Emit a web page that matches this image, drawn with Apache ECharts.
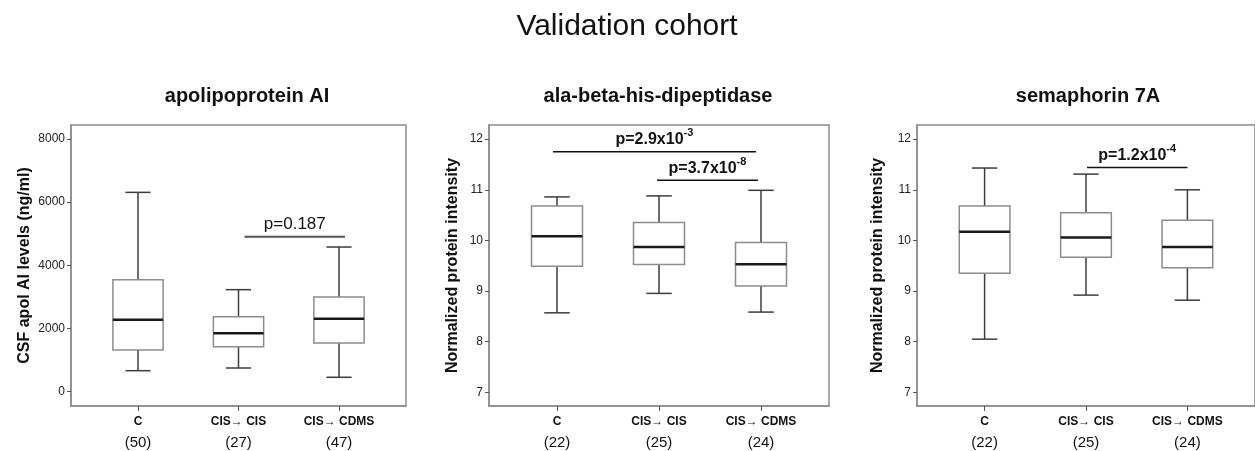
<!DOCTYPE html>
<html>
<head>
<meta charset="utf-8">
<script src="https://cdn.jsdelivr.net/npm/echarts@6.0.0/dist/echarts.min.js"></script>
<style>
  body { margin: 0; background: #fff; }
  #main { width: 1255px; height: 451px; }
</style>
</head>
<body>
<div id="main"></div>
<script>
// data
var groups = ['C', 'CIS\u2192 CIS', 'CIS\u2192 CDMS'];

// box stats: [low whisker, Q1, median, Q3, high whisker]
var apoBoxes = [
  [665, 1320, 2280, 3546, 6310],
  [750, 1425, 1850, 2375, 3230],
  [456, 1542, 2311, 2998, 4580]
];
var apoN = [50, 27, 47];

var alaBoxes = [
  [8.57, 9.49, 10.085, 10.68, 10.86],
  [8.954, 9.526, 9.87, 10.355, 10.88],
  [8.585, 9.10, 9.53, 9.96, 10.99]
];
var alaN = [22, 25, 24];

var semaBoxes = [
  [8.05, 9.35, 10.17, 10.68, 11.43],
  [8.92, 9.67, 10.06, 10.545, 11.31],
  [8.82, 9.46, 9.87, 10.40, 11.0]
];
var semaN = [22, 25, 24];

var apoTicks = [0, 2000, 4000, 6000, 8000];
var proteinTicks = [7, 8, 9, 10, 11, 12];

// significance bars: [x from, x to, y]
var apoSig = [[2.06, 3.06, 4907]];
var apoSigText = [['p=0.187', '']];
var alaSig = [[0.96, 2.95, 11.75], [1.98, 2.97, 11.19]];
var alaSigText = [['p=2.9x10', '-3'], ['p=3.7x10', '-8']];
var semaSig = [[2.01, 3.0, 11.44]];
var semaSigText = [['p=1.2x10', '-4']];

var FONT = "'Liberation Sans', Arial, Helvetica, sans-serif";
var BOX_W = 0.5;

function boxData(boxes) {
  return boxes.map(function (b, i) { return [i + 1].concat(b); });
}

function renderBox(params, api) {
  var x = api.value(0);
  var lo = api.coord([x, api.value(1)]);
  var q1 = api.coord([x, api.value(2)]);
  var md = api.coord([x, api.value(3)]);
  var q3 = api.coord([x, api.value(4)]);
  var hi = api.coord([x, api.value(5)]);
  var half = api.size([BOX_W, 0])[0] / 2;
  var cap = half / 2;
  var cx = lo[0];
  var whisk = { stroke: '#3c3c3c', lineWidth: 1.5 };
  return {
    type: 'group',
    children: [
      { type: 'line', shape: { x1: cx, y1: hi[1], x2: cx, y2: q3[1] }, style: whisk },
      { type: 'line', shape: { x1: cx, y1: q1[1], x2: cx, y2: lo[1] }, style: whisk },
      { type: 'line', shape: { x1: cx - cap, y1: hi[1], x2: cx + cap, y2: hi[1] }, style: whisk },
      { type: 'line', shape: { x1: cx - cap, y1: lo[1], x2: cx + cap, y2: lo[1] }, style: whisk },
      { type: 'rect', shape: { x: cx - half, y: q3[1], width: half * 2, height: q1[1] - q3[1] },
        style: { fill: '#fff', stroke: '#8c8c8c', lineWidth: 1.5 } },
      { type: 'line', shape: { x1: cx - half, y1: md[1], x2: cx + half, y2: md[1] },
        style: { stroke: '#1a1a1a', lineWidth: 2.5 } }
    ]
  };
}

function sigRenderer(texts, bold, color) {
  return function (params, api) {
    var a = api.coord([api.value(0), api.value(2)]);
    var b = api.coord([api.value(1), api.value(2)]);
    var t = texts[params.dataIndex];
    var w = bold ? 'bold ' : '';
    return {
      type: 'group',
      children: [
        { type: 'line', shape: { x1: a[0], y1: a[1], x2: b[0], y2: b[1] },
          style: { stroke: color, lineWidth: bold ? 1.5 : 2 } },
        { type: 'text', x: (a[0] + b[0]) / 2, y: a[1] - 4,
          style: {
            text: '{m|' + t[0] + '}' + (t[1] ? '{s|' + t[1] + '}' : ''),
            align: 'center', verticalAlign: 'bottom',
            rich: {
              m: { font: w + (bold ? '16px ' : '17px ') + FONT, fill: '#111', lineHeight: 20, verticalAlign: 'bottom' },
              s: { font: w + '11px ' + FONT, fill: '#111', lineHeight: 12, verticalAlign: 'top' }
            }
          } }
      ]
    };
  };
}

function xAxisFor(idx, ns) {
  return {
    type: 'value', gridIndex: idx, min: 1 / 3, max: 11 / 3,
    axisLine: { show: true, onZero: false, lineStyle: { color: '#8c8c8c', width: 1.5 } },
    axisTick: { show: true, customValues: [1, 2, 3], length: 5, lineStyle: { color: '#555' } },
    splitLine: { show: false },
    axisLabel: {
      customValues: [1, 2, 3], margin: 8,
      formatter: function (v) {
        var i = Math.round(v) - 1;
        return '{g|' + groups[i] + '}\n{n|(' + ns[i] + ')}';
      },
      rich: {
        g: { fontFamily: FONT, fontWeight: 'bold', fontSize: 12, color: '#111', lineHeight: 16 },
        n: { fontFamily: FONT, fontSize: 15, color: '#111', lineHeight: 26 }
      }
    }
  };
}

function yAxisFor(idx, name, min, max, ticks, gap) {
  return {
    type: 'value', gridIndex: idx, min: min, max: max,
    name: name, nameLocation: 'middle', nameGap: gap,
    nameTextStyle: { fontFamily: FONT, fontWeight: 'bold', fontSize: 16, color: '#111' },
    axisLine: { show: true, onZero: false, lineStyle: { color: '#8c8c8c', width: 1.5 } },
    axisTick: { show: true, customValues: ticks, length: 4, lineStyle: { color: '#555' } },
    splitLine: { show: false },
    axisLabel: {
      customValues: ticks, margin: 6, fontFamily: FONT, fontSize: 12, color: '#222',
      formatter: function (v) { return String(v); }
    }
  };
}

var gridStyle = { show: true, borderColor: '#8c8c8c', borderWidth: 1.5, backgroundColor: 'transparent' };

var option = {
  backgroundColor: '#fff',
  animation: false,
  graphic: [
    { type: 'text', x: 627, y: 12, style: { text: 'Validation cohort', font: '30px ' + FONT, fill: '#111', align: 'center' } },
    { type: 'text', x: 247, y: 86, style: { text: 'apolipoprotein AI', font: 'bold 20px ' + FONT, fill: '#111', align: 'center' } },
    { type: 'text', x: 658, y: 86, style: { text: 'ala-beta-his-dipeptidase', font: 'bold 20px ' + FONT, fill: '#111', align: 'center' } },
    { type: 'text', x: 1088, y: 86, style: { text: 'semaphorin 7A', font: 'bold 20px ' + FONT, fill: '#111', align: 'center' } }
  ],
  grid: [
    Object.assign({ left: 71, top: 125, width: 335, height: 281 }, gridStyle),
    Object.assign({ left: 489, top: 125, width: 340, height: 281 }, gridStyle),
    Object.assign({ left: 917, top: 125, width: 342, height: 281 }, gridStyle)
  ],
  xAxis: [xAxisFor(0, apoN), xAxisFor(1, alaN), xAxisFor(2, semaN)],
  yAxis: [
    yAxisFor(0, 'CSF apol AI levels (ng/ml)', -453, 8443, apoTicks, 38),
    yAxisFor(1, 'Normalized protein intensity', 6.73, 12.28, proteinTicks, 28),
    yAxisFor(2, 'Normalized protein intensity', 6.73, 12.28, proteinTicks, 31)
  ],
  series: [
    { type: 'custom', xAxisIndex: 0, yAxisIndex: 0, renderItem: renderBox, data: boxData(apoBoxes), encode: { x: 0, y: [1, 2, 3, 4, 5] } },
    { type: 'custom', xAxisIndex: 1, yAxisIndex: 1, renderItem: renderBox, data: boxData(alaBoxes), encode: { x: 0, y: [1, 2, 3, 4, 5] } },
    { type: 'custom', xAxisIndex: 2, yAxisIndex: 2, renderItem: renderBox, data: boxData(semaBoxes), encode: { x: 0, y: [1, 2, 3, 4, 5] } },
    { type: 'custom', xAxisIndex: 0, yAxisIndex: 0, renderItem: sigRenderer(apoSigText, false, '#555'), data: apoSig, encode: { x: [0, 1], y: 2 } },
    { type: 'custom', xAxisIndex: 1, yAxisIndex: 1, renderItem: sigRenderer(alaSigText, true, '#111'), data: alaSig, encode: { x: [0, 1], y: 2 } },
    { type: 'custom', xAxisIndex: 2, yAxisIndex: 2, renderItem: sigRenderer(semaSigText, true, '#111'), data: semaSig, encode: { x: [0, 1], y: 2 } }
  ]
};

var myChart = echarts.init(document.getElementById('main'));
myChart.setOption(option);
</script>
</body>
</html>
